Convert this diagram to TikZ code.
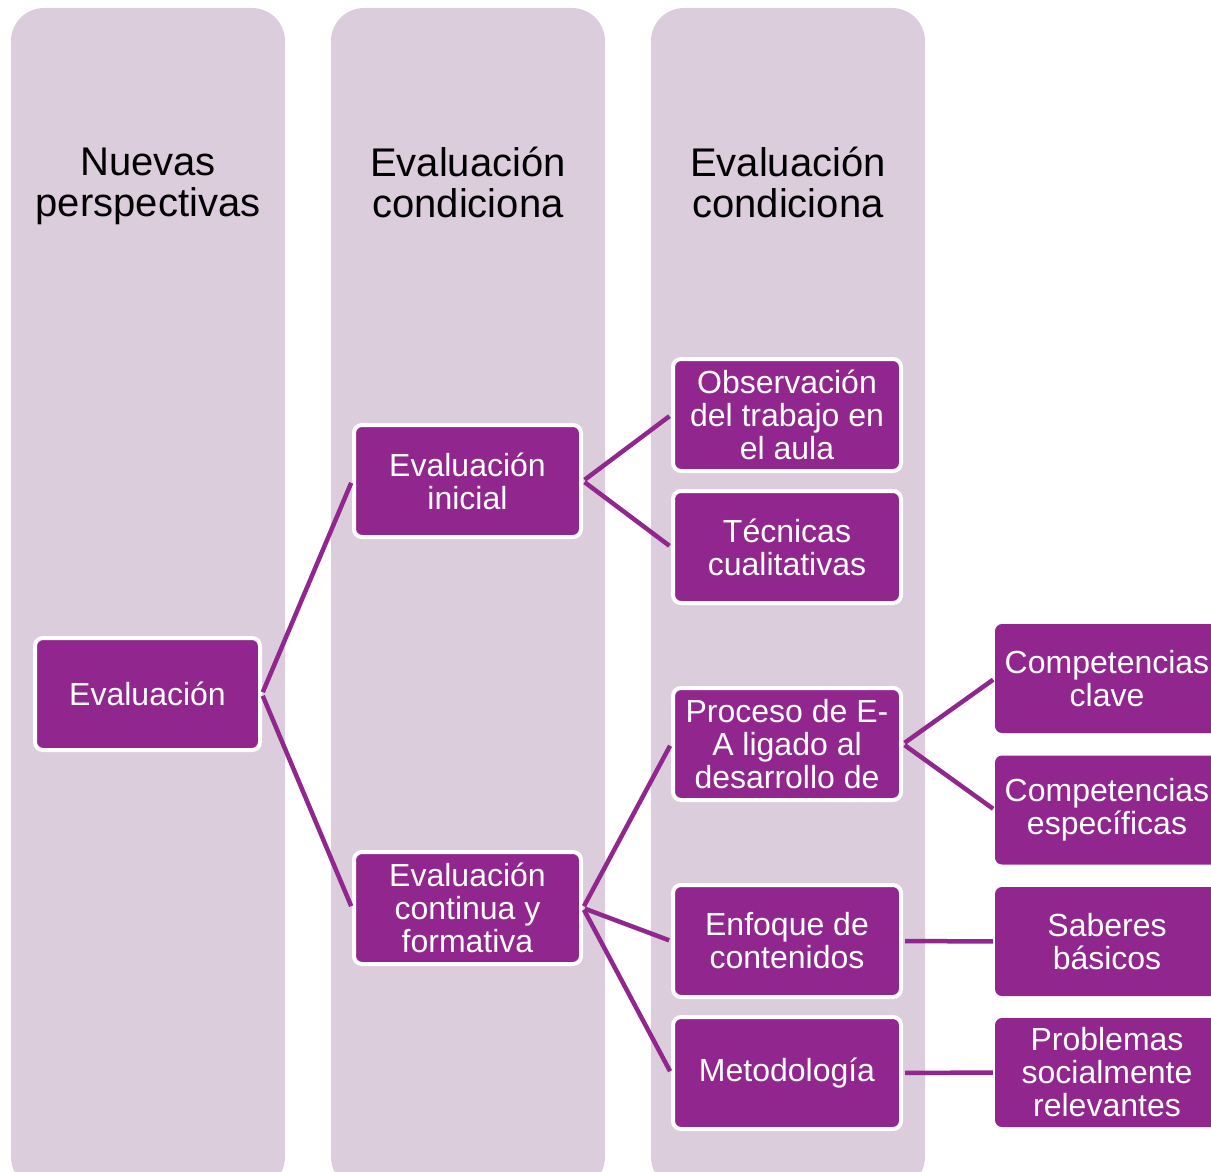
\documentclass[tikz,border=0pt]{standalone}
\usepackage{fontspec}
\setmainfont{Liberation Sans}
\definecolor{colbg}{HTML}{DBCDDB}
\definecolor{boxpurple}{HTML}{91278E}
\begin{document}
\begin{tikzpicture}[x=1pt,y=-1pt,
  colbox/.style={fill=colbg, rounded corners=33pt},
  ibox/.style={rectangle, draw=white, line width=4pt, fill=boxpurple, rounded corners=8pt,
    text=white, align=center, font=\fontsize{32}{33}\selectfont,
    minimum width=226pt, minimum height=112pt, inner sep=0pt},
  obox/.style={rectangle, fill=boxpurple, rounded corners=7pt,
    text=white, align=center, font=\fontsize{32}{33}\selectfont,
    minimum width=224pt, minimum height=109pt, inner sep=0pt},
  head/.style={align=center, font=\fontsize{40}{41}\selectfont, text=black, inner sep=0pt},
  conn/.style={draw=boxpurple, line width=4.5pt, shorten >=2pt, shorten <=2pt}]
\useasboundingbox (0,0) rectangle (1211,1172);
\clip (0,0) rectangle (1211,1172);
% columns
\fill[colbox] (11,8) rectangle (285,1190);
\fill[colbox] (331,8) rectangle (605,1190);
\fill[colbox] (651,8) rectangle (925,1190);
% headings
\node[head] (h1) at (148,186) {Nuevas\\perspectivas};
\node[head] (h2) at (468,182) {Evaluación\\condiciona};
\node[head] (h3) at (788,182) {Evaluación\\condiciona};
% column 1
\node[ibox, minimum width=225pt] (ev) at (147.5,694) {Evaluación};
% column 2
\node[ibox, minimum width=227pt] (ini) at (467.5,481) {Evaluación\\inicial};
\node[ibox, minimum width=227pt] (cont) at (467.5,908) {Evaluación\\continua y\\formativa};
% column 3
\node[ibox, minimum width=228pt] (obs) at (787,415) {Observación\\del trabajo en\\el aula};
\node[ibox, minimum width=228pt] (tec) at (787,547) {Técnicas\\cualitativas};
\node[ibox, minimum width=228pt] (pro) at (787,744) {Proceso de E-\\A ligado al\\desarrollo de};
\node[ibox, minimum width=228pt] (enf) at (787,941) {Enfoque de\\contenidos};
\node[ibox, minimum width=228pt] (met) at (787,1073) {Metodología};
% outer column
\node[obox] (cc) at (1107,678.5) {Competencias\\clave};
\node[obox] (ce) at (1107,810) {Competencias\\específicas};
\node[obox] (sb) at (1107,941.5) {Saberes\\básicos};
\node[obox] (ps) at (1107,1072.5) {Problemas\\socialmente\\relevantes};
% connectors
\draw[conn] (ev.east) -- (ini.west);
\draw[conn] (ev.east) -- (cont.west);
\draw[conn] (ini.east) -- (obs.west);
\draw[conn] (ini.east) -- (tec.west);
\draw[conn] (cont.east) -- (pro.west);
\draw[conn] (cont.east) -- (enf.west);
\draw[conn] (cont.east) -- (met.west);
\draw[conn] (pro.east) -- (cc.west);
\draw[conn] (pro.east) -- (ce.west);
\draw[conn] (enf.east) -- (sb.west);
\draw[conn] (met.east) -- (ps.west);
\end{tikzpicture}
\end{document}
